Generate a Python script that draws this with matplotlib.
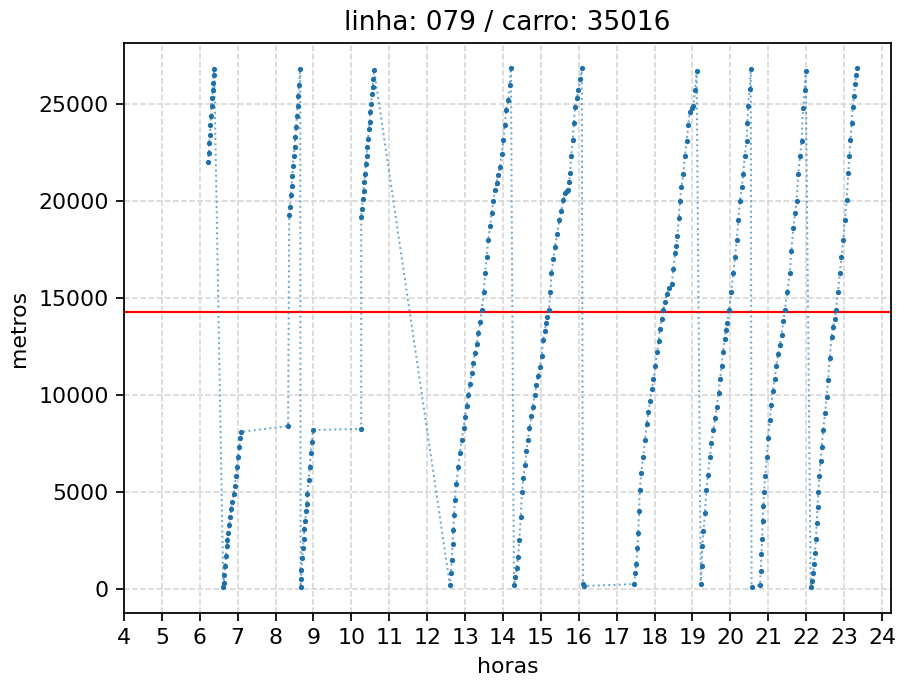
import matplotlib
matplotlib.use("Agg")
import matplotlib.pyplot as plt

titulo = "linha: 079 / carro: 35016"
limite_metros = 14300
horas_ticks = list(range(4, 25))

# viagem 1 (parcial)
v1_h = [6.22, 6.24, 6.25, 6.27, 6.28, 6.30, 6.31, 6.33, 6.34, 6.36, 6.37, 6.38]
v1_m = [22000, 22500, 23000, 23400, 23900, 24400, 24900, 25300, 25700, 26100, 26500, 26800]

# viagem 2 (volta parcial) + parada
v2_h = [6.62, 6.63, 6.65, 6.67, 6.69, 6.71, 6.73, 6.75, 6.78, 6.80, 6.83, 6.86, 6.89,
        6.92, 6.95, 6.98, 7.01, 7.04, 7.07, 7.10, 8.33]
v2_m = [100, 300, 700, 1200, 1700, 2200, 2500, 2900, 3300, 3700, 4100, 4500, 4900,
        5300, 5800, 6300, 6800, 7300, 7800, 8100, 8400]

# viagem 3 (parcial)
v3_h = [8.36, 8.38, 8.40, 8.42, 8.44, 8.46, 8.48, 8.50, 8.52, 8.54, 8.56, 8.58, 8.60, 8.62, 8.65]
v3_m = [19300, 19700, 20300, 20800, 21300, 21800, 22300, 22800, 23300, 23800, 24400, 24900,
        25400, 26000, 26800]

# viagem 4 (parcial) + parada
v4_h = [8.66, 8.67, 8.68, 8.70, 8.72, 8.74, 8.76, 8.78, 8.80, 8.82, 8.84, 8.87, 8.90,
        8.93, 8.96, 8.99, 10.26]
v4_m = [100, 500, 1000, 1600, 2100, 2600, 3100, 3500, 4000, 4400, 4900, 5600, 6300,
        7000, 7600, 8200, 8250]

# viagem 5 (parcial)
v5_h = [10.26, 10.28, 10.30, 10.32, 10.34, 10.36, 10.38, 10.40, 10.42, 10.44, 10.46,
        10.48, 10.50, 10.52, 10.54, 10.56, 10.58, 10.60]
v5_m = [19200, 19600, 20100, 20500, 21000, 21400, 21900, 22300, 22800, 23200, 23700,
        24100, 24600, 25000, 25500, 25900, 26300, 26750]

# viagem 6
v6_h = [12.60, 12.62, 12.65, 12.67, 12.69, 12.71, 12.73, 12.77, 12.82, 12.86, 12.91,
        12.96, 13.00, 13.04, 13.08, 13.13, 13.17, 13.22, 13.26, 13.31, 13.35, 13.40,
        13.44, 13.49, 13.53, 13.57, 13.61, 13.66, 13.70, 13.75, 13.79, 13.83, 13.88,
        13.92, 13.97, 14.01, 14.05, 14.08, 14.14, 14.18, 14.21]
v6_m = [200, 800, 1490, 2300, 3040, 3800, 4590, 5400, 6300, 7000, 7680, 8300, 8880,
        9450, 10000, 10550, 11120, 11650, 12150, 12650, 13180, 13750, 14380, 15300,
        16270, 17100, 17990, 18700, 19370, 20000, 20570, 20910, 21350, 21770, 22450,
        23140, 23900, 24690, 25210, 26000, 26840]

# viagem 7 + pontos no terminal
v7_h = [14.29, 14.33, 14.36, 14.40, 14.43, 14.47, 14.50, 14.54, 14.58, 14.62, 14.66,
        14.70, 14.75, 14.79, 14.84, 14.88, 14.93, 14.98, 15.02, 15.06, 15.10, 15.14,
        15.17, 15.21, 15.25, 15.28, 15.33, 15.37, 15.43, 15.49, 15.54, 15.59, 15.64,
        15.68, 15.72, 15.75, 15.77, 15.80, 15.84, 15.87, 15.90, 15.95, 15.99, 16.04,
        16.08, 16.11, 16.13]
v7_m = [200, 600, 1100, 1650, 2500, 3700, 5000, 5700, 6400, 7100, 7700, 8300, 8900,
        9400, 10000, 10500, 11000, 11450, 12000, 12850, 13300, 13700, 14000, 14380,
        15300, 16270, 17000, 17650, 18300, 19020, 19500, 20050, 20400, 20500, 20570,
        21000, 21430, 22300, 23140, 24000, 24860, 25300, 25720, 26300, 26840, 250, 150]

# viagem 8
v8_h = [17.46, 17.49, 17.52, 17.55, 17.57, 17.59, 17.61, 17.65, 17.70, 17.75, 17.79,
        17.84, 17.88, 17.93, 17.97, 18.02, 18.07, 18.11, 18.14, 18.19, 18.23, 18.28,
        18.32, 18.38, 18.45, 18.50, 18.54, 18.57, 18.60, 18.64, 18.67, 18.71, 18.76,
        18.80, 18.85, 18.89, 18.93, 18.98, 19.02, 19.07, 19.11]
v8_m = [250, 800, 1300, 2100, 2900, 4000, 5100, 6000, 6800, 7700, 8500, 9100, 9700,
        10300, 10800, 11500, 12200, 12800, 13400, 13900, 14400, 14800, 15200, 15500,
        15700, 16500, 17300, 17700, 18200, 19100, 20000, 20700, 21400, 22300, 23100,
        23900, 24600, 24800, 24900, 25700, 26700]

# viagem 9
v9_h = [19.22, 19.24, 19.26, 19.29, 19.33, 19.37, 19.41, 19.46, 19.50, 19.55, 19.60,
        19.64, 19.69, 19.73, 19.77, 19.81, 19.85, 19.88, 19.92, 19.97, 20.02, 20.08,
        20.12, 20.17, 20.21, 20.25, 20.30, 20.34, 20.38, 20.43, 20.45, 20.47, 20.51, 20.54]
v9_m = [250, 1200, 2200, 3000, 3900, 5100, 5900, 6800, 7500, 8200, 8800, 9400, 10100,
        10800, 11500, 12200, 12900, 13350, 13700, 14400, 15300, 16300, 17100, 18000,
        19000, 20000, 20700, 21400, 22300, 23100, 24000, 24900, 25800, 26800]

# viagem 10
v10_h = [20.56, 20.78, 20.80, 20.82, 20.84, 20.85, 20.87, 20.89, 20.92, 20.96, 21.00,
         21.04, 21.08, 21.12, 21.17, 21.21, 21.26, 21.31, 21.35, 21.40, 21.44, 21.50,
         21.57, 21.61, 21.66, 21.71, 21.75, 21.79, 21.84, 21.88, 21.92, 21.96, 21.99]
v10_m = [100, 200, 900, 1800, 2600, 3500, 4300, 5000, 5800, 6800, 7800, 8700, 9500,
         10200, 10800, 11500, 12100, 12600, 13100, 13800, 14400, 15300, 16300, 17400,
         18600, 19400, 20000, 21400, 22300, 23100, 24800, 25700, 26700]

# viagem 11
v11_h = [22.12, 22.16, 22.19, 22.21, 22.23, 22.26, 22.28, 22.30, 22.32, 22.35, 22.38,
         22.41, 22.45, 22.50, 22.54, 22.58, 22.62, 22.67, 22.71, 22.75, 22.79, 22.84,
         22.89, 22.93, 22.98, 23.02, 23.07, 23.11, 23.14, 23.17, 23.20, 23.23, 23.26,
         23.29, 23.32, 23.35]
v11_m = [100, 400, 800, 1300, 1840, 2600, 3380, 4200, 5000, 5800, 6600, 7340, 8200,
         9050, 9900, 10770, 11900, 13000, 13500, 13900, 14380, 15300, 16270, 17100,
         17990, 19000, 20050, 21430, 22300, 23140, 24000, 24860, 25400, 26060, 26500,
         26840]

horas = (v1_h + v2_h + v3_h + v4_h + v5_h + v6_h + v7_h + v8_h + v9_h + v10_h + v11_h)
metros = (v1_m + v2_m + v3_m + v4_m + v5_m + v6_m + v7_m + v8_m + v9_m + v10_m + v11_m)

fig = plt.figure(figsize=(5.69, 4.304), dpi=158)
ax = fig.add_axes([124 / 899, 1 - 613 / 680, (891 - 124) / 899, (613 - 43) / 680])

ax.grid(True, linestyle="--", color="#d3d3d3", linewidth=0.7, zorder=0)
ax.set_axisbelow(True)

ax.axhline(limite_metros, color="red", linewidth=1.0, zorder=2)
ax.plot(horas, metros, linestyle=":", color="#1f77b4", linewidth=0.9, alpha=0.65, zorder=3)
ax.plot(horas, metros, linestyle="none", marker="o", markersize=2.4, markeredgewidth=0,
        color="#1f6fa8", zorder=4)

ax.set_xticks(horas_ticks)
ax.set_xlim(4, 24.24)
ax.set_ylim(-1240, 28150)
ax.set_xlabel("horas")
ax.set_ylabel("metros")
ax.set_title(titulo)

fig.savefig("out.png", dpi=158)
